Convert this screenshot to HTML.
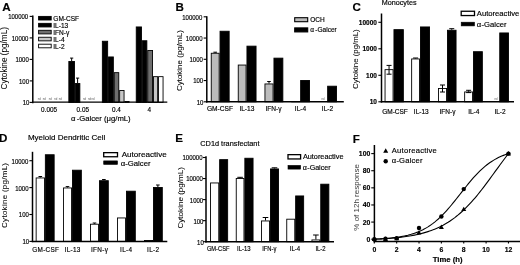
<!DOCTYPE html>
<html><head><meta charset="utf-8"><title>Figure</title>
<style>
html,body{margin:0;padding:0;background:#fff;}
svg{display:block;font-family:"Liberation Sans", Arial, sans-serif;will-change:transform;transform:translateZ(0);}
text{fill:#000;stroke:#000;stroke-width:0.16px;}
</style></head><body>
<svg width="520" height="265" viewBox="0 0 520 265">
<rect x="0" y="0" width="520" height="265" fill="#fff"/>
<text x="2.2" y="11.15" font-size="11.6" text-anchor="start" font-weight="bold" >A</text>
<text transform="translate(7.1,58.25) rotate(-90)" font-size="8.2" text-anchor="middle" font-weight="normal"  style="stroke-width:0.05px">Cytokine (pg/mL)</text>
<rect x="38.60" y="16.40" width="12.60" height="3.60" fill="#000" stroke="#000" stroke-width="0.9"/>
<text x="53.3" y="20.85" font-size="6.55" text-anchor="start" font-weight="normal" >GM-CSF</text>
<rect x="38.60" y="23.35" width="12.60" height="3.60" fill="#000" stroke="#000" stroke-width="0.9"/>
<text x="53.3" y="27.799999999999997" font-size="6.55" text-anchor="start" font-weight="normal" >IL-13</text>
<rect x="38.60" y="30.30" width="12.60" height="3.60" fill="#6e6e6e" stroke="#000" stroke-width="0.9"/>
<text x="53.3" y="34.75" font-size="6.55" text-anchor="start" font-weight="normal" >IFN-γ</text>
<rect x="38.60" y="37.25" width="12.60" height="3.60" fill="#c6c6c6" stroke="#000" stroke-width="0.9"/>
<text x="53.3" y="41.7" font-size="6.55" text-anchor="start" font-weight="normal" >IL-4</text>
<rect x="38.60" y="44.20" width="12.60" height="3.60" fill="#fff" stroke="#000" stroke-width="0.9"/>
<text x="53.3" y="48.65" font-size="6.55" text-anchor="start" font-weight="normal" >IL-2</text>
<line x1="71.65" y1="61" x2="71.65" y2="58.1" stroke="#000" stroke-width="1.0"/>
<line x1="70.05000000000001" y1="58.1" x2="73.25" y2="58.1" stroke="#000" stroke-width="1.0"/>
<rect x="68.85" y="61.45" width="5.60" height="40.95" fill="#000" stroke="#000" stroke-width="0.9"/>
<line x1="77.6" y1="83.1" x2="77.6" y2="78.1" stroke="#000" stroke-width="1.0"/>
<line x1="76.0" y1="78.1" x2="79.19999999999999" y2="78.1" stroke="#000" stroke-width="1.0"/>
<rect x="75.35" y="83.55" width="4.50" height="18.85" fill="#000" stroke="#000" stroke-width="0.9"/>
<rect x="102.35" y="41.25" width="5.30" height="61.15" fill="#000" stroke="#000" stroke-width="0.9"/>
<rect x="108.55" y="56.95" width="4.80" height="45.45" fill="#000" stroke="#000" stroke-width="0.9"/>
<rect x="114.25" y="72.65" width="4.50" height="29.75" fill="#6e6e6e" stroke="#000" stroke-width="0.9"/>
<rect x="119.65" y="90.45" width="4.40" height="11.95" fill="#c6c6c6" stroke="#000" stroke-width="0.9"/>
<rect x="124.95" y="101.45" width="4.10" height="0.95" fill="#fff" stroke="#000" stroke-width="0.9"/>
<rect x="136.25" y="26.95" width="5.20" height="75.45" fill="#000" stroke="#000" stroke-width="0.9"/>
<rect x="142.35" y="40.75" width="4.50" height="61.65" fill="#000" stroke="#000" stroke-width="0.9"/>
<rect x="147.75" y="50.45" width="4.80" height="51.95" fill="#6e6e6e" stroke="#000" stroke-width="0.9"/>
<rect x="153.45" y="76.65" width="4.20" height="25.75" fill="#c6c6c6" stroke="#000" stroke-width="0.9"/>
<rect x="158.55" y="76.65" width="4.50" height="25.75" fill="#fff" stroke="#000" stroke-width="0.9"/>
<line x1="32.8" y1="15.6" x2="32.8" y2="103.15" stroke="#000" stroke-width="1.5"/>
<line x1="29.65" y1="102.4" x2="32.8" y2="102.4" stroke="#000" stroke-width="1.1"/>
<text x="29.35" y="105.31" font-size="6.84" text-anchor="end" font-weight="normal" textLength="6.67" lengthAdjust="spacingAndGlyphs">10</text>
<line x1="29.65" y1="80.9" x2="32.8" y2="80.9" stroke="#000" stroke-width="1.1"/>
<text x="29.05" y="83.81" font-size="6.84" text-anchor="end" font-weight="normal" textLength="10.01" lengthAdjust="spacingAndGlyphs">100</text>
<line x1="29.65" y1="59.400000000000006" x2="32.8" y2="59.400000000000006" stroke="#000" stroke-width="1.1"/>
<text x="28.75" y="62.31" font-size="6.84" text-anchor="end" font-weight="normal" textLength="13.34" lengthAdjust="spacingAndGlyphs">1000</text>
<line x1="29.65" y1="37.900000000000006" x2="32.8" y2="37.900000000000006" stroke="#000" stroke-width="1.1"/>
<text x="28.45" y="40.81" font-size="6.84" text-anchor="end" font-weight="normal" textLength="16.68" lengthAdjust="spacingAndGlyphs">10000</text>
<line x1="29.65" y1="16.400000000000006" x2="32.8" y2="16.400000000000006" stroke="#000" stroke-width="1.1"/>
<text x="28.15" y="19.31" font-size="6.84" text-anchor="end" font-weight="normal" textLength="20.02" lengthAdjust="spacingAndGlyphs">100000</text>
<line x1="32.05" y1="102.15" x2="167.3" y2="102.15" stroke="#000" stroke-width="1.25"/>
<text x="49.1" y="112.1" font-size="6.4" text-anchor="middle" font-weight="normal" >0.005</text>
<text x="82.8" y="112.1" font-size="6.4" text-anchor="middle" font-weight="normal" >0.05</text>
<text x="116.4" y="112.1" font-size="6.4" text-anchor="middle" font-weight="normal" >0.4</text>
<text x="149.2" y="112.1" font-size="6.4" text-anchor="middle" font-weight="normal" >4</text>
<text x="100.8" y="121" font-size="7.7" text-anchor="middle" font-weight="normal" >α<tspan dx="1.3">-Galcer (μg/mL)</tspan></text>
<text x="39.3" y="100" font-size="2.8" text-anchor="middle" font-weight="normal" style="fill:#5a5a5a;stroke:none">nd</text>
<text x="44.3" y="100" font-size="2.8" text-anchor="middle" font-weight="normal" style="fill:#5a5a5a;stroke:none">nd</text>
<text x="50.3" y="100" font-size="2.8" text-anchor="middle" font-weight="normal" style="fill:#5a5a5a;stroke:none">nd</text>
<text x="55.7" y="100" font-size="2.8" text-anchor="middle" font-weight="normal" style="fill:#5a5a5a;stroke:none">nd</text>
<text x="60.2" y="100" font-size="2.8" text-anchor="middle" font-weight="normal" style="fill:#5a5a5a;stroke:none">nd</text>
<text x="84.5" y="100" font-size="2.8" text-anchor="middle" font-weight="normal" style="fill:#5a5a5a;stroke:none">nd</text>
<text x="89.5" y="100" font-size="2.8" text-anchor="middle" font-weight="normal" style="fill:#5a5a5a;stroke:none">nd</text>
<text x="93" y="100" font-size="2.8" text-anchor="middle" font-weight="normal" style="fill:#5a5a5a;stroke:none">nd</text>
<text x="175.5" y="10.9" font-size="11.6" text-anchor="start" font-weight="bold" >B</text>
<text transform="translate(181.8,60.65) rotate(-90)" font-size="8.0" text-anchor="middle" font-weight="normal"  style="stroke-width:0.05px">Cytokine (pg/mL)</text>
<line x1="215.2" y1="52.8" x2="215.2" y2="52.2" stroke="#000" stroke-width="1.0"/>
<line x1="213.39999999999998" y1="52.2" x2="217.0" y2="52.2" stroke="#000" stroke-width="1.0"/>
<rect x="211.25" y="53.25" width="7.90" height="48.55" fill="#bcbcbc" stroke="#000" stroke-width="0.9"/>
<rect x="220.05" y="31.25" width="9.10" height="70.55" fill="#000" stroke="#000" stroke-width="0.9"/>
<rect x="238.25" y="65.05" width="7.80" height="36.75" fill="#bcbcbc" stroke="#000" stroke-width="0.9"/>
<rect x="246.95" y="46.15" width="9.10" height="55.65" fill="#000" stroke="#000" stroke-width="0.9"/>
<line x1="269.0" y1="83.5" x2="269.0" y2="81.5" stroke="#000" stroke-width="1.0"/>
<line x1="267.2" y1="81.5" x2="270.8" y2="81.5" stroke="#000" stroke-width="1.0"/>
<rect x="264.95" y="83.95" width="8.10" height="17.85" fill="#bcbcbc" stroke="#000" stroke-width="0.9"/>
<rect x="273.95" y="58.15" width="8.90" height="43.65" fill="#000" stroke="#000" stroke-width="0.9"/>
<rect x="291.75" y="101.45" width="8.00" height="0.35" fill="#bcbcbc" stroke="#000" stroke-width="0.9"/>
<rect x="300.65" y="80.45" width="8.90" height="21.35" fill="#000" stroke="#000" stroke-width="0.9"/>
<rect x="327.65" y="86.20" width="8.90" height="15.60" fill="#000" stroke="#000" stroke-width="0.9"/>
<line x1="206.8" y1="16.2" x2="206.8" y2="102.55" stroke="#000" stroke-width="1.5"/>
<line x1="203.65" y1="101.8" x2="206.8" y2="101.8" stroke="#000" stroke-width="1.1"/>
<text x="203.45" y="104.71" font-size="6.84" text-anchor="end" font-weight="normal" textLength="6.67" lengthAdjust="spacingAndGlyphs">10</text>
<line x1="203.65" y1="80.55" x2="206.8" y2="80.55" stroke="#000" stroke-width="1.1"/>
<text x="203.15" y="83.46" font-size="6.84" text-anchor="end" font-weight="normal" textLength="10.01" lengthAdjust="spacingAndGlyphs">100</text>
<line x1="203.65" y1="59.3" x2="206.8" y2="59.3" stroke="#000" stroke-width="1.1"/>
<text x="202.85" y="62.21" font-size="6.84" text-anchor="end" font-weight="normal" textLength="13.34" lengthAdjust="spacingAndGlyphs">1000</text>
<line x1="203.65" y1="38.05" x2="206.8" y2="38.05" stroke="#000" stroke-width="1.1"/>
<text x="202.55" y="40.96" font-size="6.84" text-anchor="end" font-weight="normal" textLength="16.68" lengthAdjust="spacingAndGlyphs">10000</text>
<line x1="203.65" y1="16.799999999999997" x2="206.8" y2="16.799999999999997" stroke="#000" stroke-width="1.1"/>
<text x="202.25" y="19.71" font-size="6.84" text-anchor="end" font-weight="normal" textLength="20.02" lengthAdjust="spacingAndGlyphs">100000</text>
<line x1="206.05" y1="101.8" x2="343.8" y2="101.8" stroke="#000" stroke-width="1.5"/>
<text x="220" y="110.7" font-size="6.6" text-anchor="middle" font-weight="normal" >GM-CSF</text>
<text x="246.9" y="110.7" font-size="6.6" text-anchor="middle" font-weight="normal" >IL-13</text>
<text x="273.5" y="110.7" font-size="6.6" text-anchor="middle" font-weight="normal" >IFN-γ</text>
<text x="300.5" y="110.7" font-size="6.6" text-anchor="middle" font-weight="normal" >IL-4</text>
<text x="327.5" y="110.7" font-size="6.6" text-anchor="middle" font-weight="normal" >IL-2</text>
<rect x="294.70" y="17.70" width="13.00" height="4.00" fill="#bcbcbc" stroke="#000" stroke-width="1.1"/>
<text x="310.3" y="22.1" font-size="6.5" text-anchor="start" font-weight="normal" >OCH</text>
<rect x="294.70" y="27.90" width="13.00" height="4.00" fill="#000" stroke="#000" stroke-width="1.1"/>
<text x="310.3" y="32.3" font-size="6.5" text-anchor="start" font-weight="normal" >α<tspan dx="1.3">-Galcer</tspan></text>
<text x="323" y="100" font-size="2.8" text-anchor="middle" font-weight="normal" style="fill:#5a5a5a;stroke:none">nd</text>
<text x="352.5" y="11.2" font-size="11.6" text-anchor="start" font-weight="bold" >C</text>
<text transform="translate(357.6,59.15) rotate(-90)" font-size="7.85" text-anchor="middle" font-weight="normal"  style="stroke-width:0.05px">Cytokine (pg/mL)</text>
<text x="381.8" y="5.3" font-size="7.2" text-anchor="start" font-weight="normal" >Monocytes</text>
<line x1="389.05" y1="69.2" x2="389.05" y2="65.4" stroke="#000" stroke-width="1.0"/>
<line x1="386.55" y1="65.4" x2="391.55" y2="65.4" stroke="#000" stroke-width="1.0"/>
<rect x="385.05" y="69.65" width="8.00" height="32.15" fill="#fff" stroke="#000" stroke-width="0.9"/>
<line x1="389.05" y1="69.2" x2="389.05" y2="74.2" stroke="#000" stroke-width="1.0"/>
<line x1="386.55" y1="74.2" x2="391.55" y2="74.2" stroke="#000" stroke-width="1.0"/>
<rect x="393.95" y="29.65" width="9.40" height="72.15" fill="#000" stroke="#000" stroke-width="0.9"/>
<line x1="415.6" y1="58.5" x2="415.6" y2="58" stroke="#000" stroke-width="1.0"/>
<line x1="413.1" y1="58" x2="418.1" y2="58" stroke="#000" stroke-width="1.0"/>
<rect x="411.65" y="58.95" width="7.90" height="42.85" fill="#fff" stroke="#000" stroke-width="0.9"/>
<rect x="420.45" y="26.95" width="9.10" height="74.85" fill="#000" stroke="#000" stroke-width="0.9"/>
<line x1="442.5" y1="88" x2="442.5" y2="85" stroke="#000" stroke-width="1.0"/>
<line x1="440.0" y1="85" x2="445.0" y2="85" stroke="#000" stroke-width="1.0"/>
<rect x="438.45" y="88.45" width="8.10" height="13.35" fill="#fff" stroke="#000" stroke-width="0.9"/>
<line x1="442.5" y1="88" x2="442.5" y2="92" stroke="#000" stroke-width="1.0"/>
<line x1="440.0" y1="92" x2="445.0" y2="92" stroke="#000" stroke-width="1.0"/>
<line x1="451.75" y1="29.8" x2="451.75" y2="28.7" stroke="#000" stroke-width="1.0"/>
<line x1="449.25" y1="28.7" x2="454.25" y2="28.7" stroke="#000" stroke-width="1.0"/>
<rect x="447.45" y="30.25" width="8.60" height="71.55" fill="#000" stroke="#000" stroke-width="0.9"/>
<line x1="468.6" y1="91.5" x2="468.6" y2="90.3" stroke="#000" stroke-width="1.0"/>
<line x1="466.1" y1="90.3" x2="471.1" y2="90.3" stroke="#000" stroke-width="1.0"/>
<rect x="464.65" y="91.95" width="7.90" height="9.85" fill="#fff" stroke="#000" stroke-width="0.9"/>
<line x1="468.6" y1="91.5" x2="468.6" y2="92.6" stroke="#000" stroke-width="1.0"/>
<line x1="466.1" y1="92.6" x2="471.1" y2="92.6" stroke="#000" stroke-width="1.0"/>
<rect x="473.45" y="51.70" width="8.90" height="50.10" fill="#000" stroke="#000" stroke-width="0.9"/>
<rect x="499.75" y="32.95" width="8.70" height="68.85" fill="#000" stroke="#000" stroke-width="0.9"/>
<line x1="381.5" y1="13.5" x2="381.5" y2="102.55" stroke="#000" stroke-width="1.5"/>
<line x1="378.35" y1="101.8" x2="381.5" y2="101.8" stroke="#000" stroke-width="1.1"/>
<text x="376.95" y="104.14" font-size="6.5" text-anchor="end" font-weight="bold" >10</text>
<line x1="378.35" y1="75.3" x2="381.5" y2="75.3" stroke="#000" stroke-width="1.1"/>
<text x="376.95" y="77.64" font-size="6.5" text-anchor="end" font-weight="bold" >100</text>
<line x1="378.35" y1="48.8" x2="381.5" y2="48.8" stroke="#000" stroke-width="1.1"/>
<text x="376.95" y="51.14" font-size="6.5" text-anchor="end" font-weight="bold" >1000</text>
<line x1="378.35" y1="22.299999999999997" x2="381.5" y2="22.299999999999997" stroke="#000" stroke-width="1.1"/>
<text x="376.95" y="24.64" font-size="6.5" text-anchor="end" font-weight="bold" >10000</text>
<line x1="380.75" y1="101.8" x2="514" y2="101.8" stroke="#000" stroke-width="1.5"/>
<text x="395" y="113.8" font-size="6.5" text-anchor="middle" font-weight="normal" >GM-CSF</text>
<text x="421.25" y="113.8" font-size="6.5" text-anchor="middle" font-weight="normal" >IL-13</text>
<text x="447.5" y="113.8" font-size="6.5" text-anchor="middle" font-weight="normal" >IFN-γ</text>
<text x="473.75" y="113.8" font-size="6.5" text-anchor="middle" font-weight="normal" >IL-4</text>
<text x="500" y="113.8" font-size="6.5" text-anchor="middle" font-weight="normal" >IL-2</text>
<rect x="461.20" y="11.25" width="13.30" height="4.30" fill="#fff" stroke="#000" stroke-width="1.3"/>
<text x="476.8" y="15.9" font-size="7.65" text-anchor="start" font-weight="normal" >Autoreactive</text>
<rect x="461.20" y="22.20" width="13.30" height="3.70" fill="#000" stroke="#000" stroke-width="0.6"/>
<text x="476.8" y="26.8" font-size="7.65" text-anchor="start" font-weight="normal" >α<tspan dx="0.3">-Galcer</tspan></text>
<text x="496" y="99.6" font-size="2.8" text-anchor="middle" font-weight="normal" style="fill:#5a5a5a;stroke:none">nd</text>
<text x="-1.1" y="142.3" font-size="11.6" text-anchor="start" font-weight="bold" >D</text>
<text transform="translate(7.1,195.3) rotate(-90)" font-size="7.9" text-anchor="middle" font-weight="normal" letter-spacing="0.32" style="stroke-width:0.05px">Cytokine (pg/mL)</text>
<text x="27.9" y="140.4" font-size="8.0" text-anchor="start" font-weight="normal" >Myeloid Dendritic Cell</text>
<line x1="40.3" y1="177.5" x2="40.3" y2="176.5" stroke="#000" stroke-width="1.0"/>
<line x1="38.5" y1="176.5" x2="42.099999999999994" y2="176.5" stroke="#000" stroke-width="1.0"/>
<rect x="36.15" y="177.95" width="8.30" height="63.45" fill="#fff" stroke="#000" stroke-width="0.9"/>
<rect x="45.35" y="154.75" width="8.80" height="86.65" fill="#000" stroke="#000" stroke-width="0.9"/>
<line x1="67.5" y1="187.5" x2="67.5" y2="186.6" stroke="#000" stroke-width="1.0"/>
<line x1="65.7" y1="186.6" x2="69.3" y2="186.6" stroke="#000" stroke-width="1.0"/>
<rect x="63.45" y="187.95" width="8.10" height="53.45" fill="#fff" stroke="#000" stroke-width="0.9"/>
<rect x="72.45" y="170.20" width="8.90" height="71.20" fill="#000" stroke="#000" stroke-width="0.9"/>
<line x1="94.5" y1="223.75" x2="94.5" y2="223" stroke="#000" stroke-width="1.0"/>
<line x1="92.7" y1="223" x2="96.3" y2="223" stroke="#000" stroke-width="1.0"/>
<rect x="90.45" y="224.20" width="8.10" height="17.20" fill="#fff" stroke="#000" stroke-width="0.9"/>
<line x1="103.875" y1="180.25" x2="103.875" y2="179.5" stroke="#000" stroke-width="1.0"/>
<line x1="102.075" y1="179.5" x2="105.675" y2="179.5" stroke="#000" stroke-width="1.0"/>
<rect x="99.45" y="180.70" width="8.85" height="60.70" fill="#000" stroke="#000" stroke-width="0.9"/>
<rect x="117.45" y="217.95" width="8.10" height="23.45" fill="#fff" stroke="#000" stroke-width="0.9"/>
<rect x="126.45" y="191.20" width="8.85" height="50.20" fill="#000" stroke="#000" stroke-width="0.9"/>
<rect x="144.45" y="240.45" width="8.10" height="0.95" fill="#fff" stroke="#000" stroke-width="0.9"/>
<line x1="157.875" y1="187" x2="157.875" y2="185" stroke="#000" stroke-width="1.0"/>
<line x1="156.075" y1="185" x2="159.675" y2="185" stroke="#000" stroke-width="1.0"/>
<rect x="153.45" y="187.45" width="8.85" height="53.95" fill="#000" stroke="#000" stroke-width="0.9"/>
<line x1="32.5" y1="151.8" x2="32.5" y2="242.15" stroke="#000" stroke-width="1.5"/>
<line x1="29.35" y1="241.4" x2="32.5" y2="241.4" stroke="#000" stroke-width="1.1"/>
<text x="29.15" y="244.31" font-size="6.84" text-anchor="end" font-weight="normal" textLength="6.67" lengthAdjust="spacingAndGlyphs">10</text>
<line x1="29.35" y1="214.5" x2="32.5" y2="214.5" stroke="#000" stroke-width="1.1"/>
<text x="28.85" y="217.41" font-size="6.84" text-anchor="end" font-weight="normal" textLength="10.01" lengthAdjust="spacingAndGlyphs">100</text>
<line x1="29.35" y1="187.60000000000002" x2="32.5" y2="187.60000000000002" stroke="#000" stroke-width="1.1"/>
<text x="28.55" y="190.51" font-size="6.84" text-anchor="end" font-weight="normal" textLength="13.34" lengthAdjust="spacingAndGlyphs">1000</text>
<line x1="29.35" y1="160.70000000000002" x2="32.5" y2="160.70000000000002" stroke="#000" stroke-width="1.1"/>
<text x="28.25" y="163.61" font-size="6.84" text-anchor="end" font-weight="normal" textLength="16.68" lengthAdjust="spacingAndGlyphs">10000</text>
<line x1="31.75" y1="241.4" x2="167.3" y2="241.4" stroke="#000" stroke-width="1.5"/>
<text x="45.8" y="252" font-size="6.4" text-anchor="middle" font-weight="normal" letter-spacing="0.3">GM-CSF</text>
<text x="72.7" y="252" font-size="6.4" text-anchor="middle" font-weight="normal" letter-spacing="0.3">IL-13</text>
<text x="99.6" y="252" font-size="6.4" text-anchor="middle" font-weight="normal" letter-spacing="0.3">IFN-γ</text>
<text x="126.2" y="252" font-size="6.4" text-anchor="middle" font-weight="normal" letter-spacing="0.3">IL-4</text>
<text x="153.2" y="252" font-size="6.4" text-anchor="middle" font-weight="normal" letter-spacing="0.3">IL-2</text>
<rect x="103.70" y="152.65" width="13.80" height="4.10" fill="#fff" stroke="#000" stroke-width="1.3"/>
<text x="121.7" y="157.1" font-size="8.1" text-anchor="start" font-weight="normal" >Autoreactive</text>
<rect x="103.70" y="160.90" width="13.80" height="3.50" fill="#000" stroke="#000" stroke-width="0.6"/>
<text x="120.7" y="165.9" font-size="7.75" text-anchor="start" font-weight="normal" >α<tspan dx="0.0">-Galcer</tspan></text>
<text x="175.3" y="142" font-size="11.6" text-anchor="start" font-weight="bold" >E</text>
<text transform="translate(182.6,197.75) rotate(-90)" font-size="8.1" text-anchor="middle" font-weight="normal"  style="stroke-width:0.05px">Cytokine (pg/mL)</text>
<text x="200.3" y="145.9" font-size="7.35" text-anchor="start" font-weight="normal" >CD1d transfectant</text>
<rect x="210.55" y="182.95" width="8.20" height="58.75" fill="#fff" stroke="#000" stroke-width="0.9"/>
<rect x="219.65" y="159.65" width="8.00" height="82.05" fill="#000" stroke="#000" stroke-width="0.9"/>
<line x1="240.10000000000002" y1="178" x2="240.10000000000002" y2="177.3" stroke="#000" stroke-width="1.0"/>
<line x1="237.3" y1="177.3" x2="242.90000000000003" y2="177.3" stroke="#000" stroke-width="1.0"/>
<rect x="236.25" y="178.45" width="7.70" height="63.25" fill="#fff" stroke="#000" stroke-width="0.9"/>
<rect x="244.85" y="158.25" width="8.20" height="83.45" fill="#000" stroke="#000" stroke-width="0.9"/>
<line x1="265.5" y1="220.5" x2="265.5" y2="217.5" stroke="#000" stroke-width="1.0"/>
<line x1="262.7" y1="217.5" x2="268.3" y2="217.5" stroke="#000" stroke-width="1.0"/>
<rect x="261.45" y="220.95" width="8.10" height="20.75" fill="#fff" stroke="#000" stroke-width="0.9"/>
<line x1="274.5" y1="168.5" x2="274.5" y2="167.8" stroke="#000" stroke-width="1.0"/>
<line x1="271.7" y1="167.8" x2="277.3" y2="167.8" stroke="#000" stroke-width="1.0"/>
<rect x="270.45" y="168.95" width="8.10" height="72.75" fill="#000" stroke="#000" stroke-width="0.9"/>
<rect x="286.75" y="219.20" width="8.00" height="22.50" fill="#fff" stroke="#000" stroke-width="0.9"/>
<rect x="295.65" y="195.95" width="8.00" height="45.75" fill="#000" stroke="#000" stroke-width="0.9"/>
<line x1="315.9" y1="239.5" x2="315.9" y2="235" stroke="#000" stroke-width="1.0"/>
<line x1="313.09999999999997" y1="235" x2="318.7" y2="235" stroke="#000" stroke-width="1.0"/>
<rect x="311.95" y="239.95" width="7.90" height="1.75" fill="#fff" stroke="#000" stroke-width="0.9"/>
<rect x="320.75" y="184.20" width="8.10" height="57.50" fill="#000" stroke="#000" stroke-width="0.9"/>
<line x1="206" y1="156.3" x2="206" y2="242.45" stroke="#000" stroke-width="1.5"/>
<line x1="202.85" y1="241.7" x2="206" y2="241.7" stroke="#000" stroke-width="1.1"/>
<text x="203.75" y="244.61" font-size="6.84" text-anchor="end" font-weight="normal" textLength="6.67" lengthAdjust="spacingAndGlyphs">10</text>
<line x1="202.85" y1="220.64999999999998" x2="206" y2="220.64999999999998" stroke="#000" stroke-width="1.1"/>
<text x="203.45" y="223.56" font-size="6.84" text-anchor="end" font-weight="normal" textLength="10.01" lengthAdjust="spacingAndGlyphs">100</text>
<line x1="202.85" y1="199.6" x2="206" y2="199.6" stroke="#000" stroke-width="1.1"/>
<text x="203.15" y="202.51" font-size="6.84" text-anchor="end" font-weight="normal" textLength="13.34" lengthAdjust="spacingAndGlyphs">1000</text>
<line x1="202.85" y1="178.54999999999998" x2="206" y2="178.54999999999998" stroke="#000" stroke-width="1.1"/>
<text x="202.85" y="181.46" font-size="6.84" text-anchor="end" font-weight="normal" textLength="16.68" lengthAdjust="spacingAndGlyphs">10000</text>
<line x1="202.85" y1="157.5" x2="206" y2="157.5" stroke="#000" stroke-width="1.1"/>
<text x="202.55" y="160.41" font-size="6.84" text-anchor="end" font-weight="normal" textLength="20.02" lengthAdjust="spacingAndGlyphs">100000</text>
<line x1="205.25" y1="241.7" x2="334" y2="241.7" stroke="#000" stroke-width="1.5"/>
<text x="218.2" y="250.7" font-size="6.7" text-anchor="middle" font-weight="normal"  textLength="22.6" lengthAdjust="spacingAndGlyphs">GM-CSF</text>
<text x="243.8" y="250.7" font-size="6.7" text-anchor="middle" font-weight="normal"  textLength="13.6" lengthAdjust="spacingAndGlyphs">IL-13</text>
<text x="269.3" y="250.7" font-size="6.7" text-anchor="middle" font-weight="normal"  textLength="14.2" lengthAdjust="spacingAndGlyphs">IFN-γ</text>
<text x="295" y="250.7" font-size="6.7" text-anchor="middle" font-weight="normal"  textLength="10.4" lengthAdjust="spacingAndGlyphs">IL-4</text>
<text x="320.5" y="250.7" font-size="6.7" text-anchor="middle" font-weight="normal"  textLength="10.2" lengthAdjust="spacingAndGlyphs">IL-2</text>
<rect x="288.00" y="154.65" width="12.60" height="4.30" fill="#fff" stroke="#000" stroke-width="1.3"/>
<text x="302.9" y="159.3" font-size="7.3" text-anchor="start" font-weight="normal" >Autoreactive</text>
<rect x="288.00" y="165.40" width="12.60" height="3.70" fill="#000" stroke="#000" stroke-width="0.6"/>
<text x="302.7" y="170.0" font-size="7.1" text-anchor="start" font-weight="normal" >α<tspan dx="0.5">-Galcer</tspan></text>
<text x="352.8" y="142.9" font-size="11.6" text-anchor="start" font-weight="bold" >F</text>
<line x1="374.4" y1="145" x2="374.4" y2="242.25" stroke="#000" stroke-width="1.5"/>
<line x1="371.25" y1="239.2" x2="374.4" y2="239.2" stroke="#000" stroke-width="1.1"/>
<text x="370.25" y="241.7" font-size="6.85" text-anchor="end" font-weight="bold" >0</text>
<line x1="371.25" y1="222.07999999999998" x2="374.4" y2="222.07999999999998" stroke="#000" stroke-width="1.1"/>
<text x="370.25" y="224.58" font-size="6.85" text-anchor="end" font-weight="bold" >20</text>
<line x1="371.25" y1="204.95999999999998" x2="374.4" y2="204.95999999999998" stroke="#000" stroke-width="1.1"/>
<text x="370.25" y="207.46" font-size="6.85" text-anchor="end" font-weight="bold" >40</text>
<line x1="371.25" y1="187.83999999999997" x2="374.4" y2="187.83999999999997" stroke="#000" stroke-width="1.1"/>
<text x="370.25" y="190.34" font-size="6.85" text-anchor="end" font-weight="bold" >60</text>
<line x1="371.25" y1="170.71999999999997" x2="374.4" y2="170.71999999999997" stroke="#000" stroke-width="1.1"/>
<text x="370.25" y="173.22" font-size="6.85" text-anchor="end" font-weight="bold" >80</text>
<line x1="371.25" y1="153.6" x2="374.4" y2="153.6" stroke="#000" stroke-width="1.1"/>
<text x="370.25" y="156.1" font-size="6.85" text-anchor="end" font-weight="bold" >100</text>
<line x1="373.65" y1="241.5" x2="520" y2="241.5" stroke="#000" stroke-width="1.5"/>
<line x1="374.3" y1="241.5" x2="374.3" y2="243.5" stroke="#000" stroke-width="1.1"/>
<text x="374.3" y="251.6" font-size="6.85" text-anchor="middle" font-weight="bold" >0</text>
<line x1="396.66" y1="241.5" x2="396.66" y2="243.5" stroke="#000" stroke-width="1.1"/>
<text x="396.66" y="251.6" font-size="6.85" text-anchor="middle" font-weight="bold" >2</text>
<line x1="419.02" y1="241.5" x2="419.02" y2="243.5" stroke="#000" stroke-width="1.1"/>
<text x="419.02" y="251.6" font-size="6.85" text-anchor="middle" font-weight="bold" >4</text>
<line x1="441.38" y1="241.5" x2="441.38" y2="243.5" stroke="#000" stroke-width="1.1"/>
<text x="441.38" y="251.6" font-size="6.85" text-anchor="middle" font-weight="bold" >6</text>
<line x1="463.74" y1="241.5" x2="463.74" y2="243.5" stroke="#000" stroke-width="1.1"/>
<text x="463.74" y="251.6" font-size="6.85" text-anchor="middle" font-weight="bold" >8</text>
<line x1="486.1" y1="241.5" x2="486.1" y2="243.5" stroke="#000" stroke-width="1.1"/>
<text x="486.1" y="251.6" font-size="6.85" text-anchor="middle" font-weight="bold" >10</text>
<line x1="508.46000000000004" y1="241.5" x2="508.46000000000004" y2="243.5" stroke="#000" stroke-width="1.1"/>
<text x="508.46" y="251.6" font-size="6.85" text-anchor="middle" font-weight="bold" >12</text>
<text x="447.7" y="262.1" font-size="7.7" text-anchor="middle" font-weight="bold" >Time (h)</text>
<text transform="translate(359.3,197.35) rotate(-90)" font-size="8.0" text-anchor="middle" font-weight="normal" style="fill:#3a3a3a;stroke:none">% of 12h response</text>
<path d="M374.30,239.20 L375.98,239.13 L377.65,239.04 L379.33,238.95 L381.01,238.86 L382.69,238.75 L384.36,238.63 L386.04,238.50 L387.72,238.36 L389.39,238.21 L391.07,238.04 L392.75,237.85 L394.42,237.65 L396.10,237.43 L397.78,237.19 L399.46,236.93 L401.13,236.64 L402.81,236.33 L404.49,235.99 L406.16,235.62 L407.84,235.22 L409.52,234.78 L411.19,234.31 L412.87,233.79 L414.55,233.23 L416.23,232.63 L417.90,231.97 L419.58,231.27 L421.26,230.51 L422.93,229.69 L424.61,228.81 L426.29,227.86 L427.96,226.85 L429.64,225.76 L431.32,224.61 L433.00,223.38 L434.67,222.08 L436.35,220.70 L438.03,219.24 L439.70,217.71 L441.38,216.10 L443.06,214.41 L444.73,212.66 L446.41,210.84 L448.09,208.95 L449.76,207.01 L451.44,205.01 L453.12,202.97 L454.80,200.89 L456.47,198.78 L458.15,196.64 L459.83,194.50 L461.50,192.35 L463.18,190.21 L464.86,188.09 L466.54,185.98 L468.21,183.92 L469.89,181.89 L471.57,179.91 L473.24,177.98 L474.92,176.12 L476.60,174.32 L478.27,172.58 L479.95,170.93 L481.63,169.34 L483.31,167.83 L484.98,166.40 L486.66,165.05 L488.34,163.77 L490.01,162.57 L491.69,161.43 L493.37,160.38 L495.04,159.39 L496.72,158.46 L498.40,157.60 L500.07,156.80 L501.75,156.06 L503.43,155.37 L505.11,154.73 L506.78,154.14 L508.46,153.60" fill="none" stroke="#000" stroke-width="1.1"/>
<path d="M374.30,239.20 L375.98,239.13 L377.65,239.05 L379.33,238.97 L381.01,238.88 L382.69,238.78 L384.36,238.68 L386.04,238.57 L387.72,238.45 L389.39,238.33 L391.07,238.20 L392.75,238.06 L394.42,237.91 L396.10,237.75 L397.78,237.57 L399.46,237.39 L401.13,237.19 L402.81,236.99 L404.49,236.76 L406.16,236.53 L407.84,236.27 L409.52,236.00 L411.19,235.72 L412.87,235.41 L414.55,235.09 L416.23,234.74 L417.90,234.37 L419.58,233.98 L421.26,233.56 L422.93,233.12 L424.61,232.65 L426.29,232.15 L427.96,231.62 L429.64,231.06 L431.32,230.46 L433.00,229.83 L434.67,229.16 L436.35,228.45 L438.03,227.70 L439.70,226.91 L441.38,226.07 L443.06,225.19 L444.73,224.26 L446.41,223.28 L448.09,222.25 L449.76,221.17 L451.44,220.04 L453.12,218.84 L454.80,217.60 L456.47,216.29 L458.15,214.93 L459.83,213.50 L461.50,212.02 L463.18,210.48 L464.86,208.87 L466.54,207.21 L468.21,205.49 L469.89,203.70 L471.57,201.87 L473.24,199.97 L474.92,198.03 L476.60,196.03 L478.27,193.98 L479.95,191.89 L481.63,189.76 L483.31,187.58 L484.98,185.38 L486.66,183.14 L488.34,180.88 L490.01,178.60 L491.69,176.30 L493.37,173.99 L495.04,171.68 L496.72,169.36 L498.40,167.06 L500.07,164.76 L501.75,162.48 L503.43,160.21 L505.11,157.98 L506.78,155.77 L508.46,153.60" fill="none" stroke="#000" stroke-width="1.1"/>
<circle cx="374.30" cy="239.20" r="2.2" fill="#000"/>
<circle cx="385.48" cy="238.69" r="2.2" fill="#000"/>
<circle cx="396.66" cy="238.17" r="2.2" fill="#000"/>
<circle cx="419.02" cy="228.07" r="2.2" fill="#000"/>
<circle cx="441.38" cy="216.52" r="2.2" fill="#000"/>
<circle cx="463.74" cy="189.12" r="2.2" fill="#000"/>
<circle cx="508.46" cy="153.60" r="2.2" fill="#000"/>
<path d="M374.30,236.60 L376.80,241.00 L371.80,241.00 Z" fill="#000"/>
<path d="M385.48,236.60 L387.98,241.00 L382.98,241.00 Z" fill="#000"/>
<path d="M396.66,235.92 L399.16,240.32 L394.16,240.32 Z" fill="#000"/>
<path d="M419.02,230.18 L421.52,234.58 L416.52,234.58 Z" fill="#000"/>
<path d="M441.38,224.62 L443.88,229.02 L438.88,229.02 Z" fill="#000"/>
<path d="M463.74,206.64 L466.24,211.04 L461.24,211.04 Z" fill="#000"/>
<path d="M508.46,151.00 L510.96,155.40 L505.96,155.40 Z" fill="#000"/>
<path d="M385.70,148.30 L388.20,152.70 L383.20,152.70 Z" fill="#000"/>
<circle cx="385.7" cy="161.2" r="2.2" fill="#000"/>
<text x="391.8" y="152.6" font-size="7.6" text-anchor="start" font-weight="normal" letter-spacing="0.25">Autoreactive</text>
<text x="391.8" y="162.7" font-size="7.6" text-anchor="start" font-weight="normal" letter-spacing="0.2">α-Galcer</text>
</svg>
</body></html>
